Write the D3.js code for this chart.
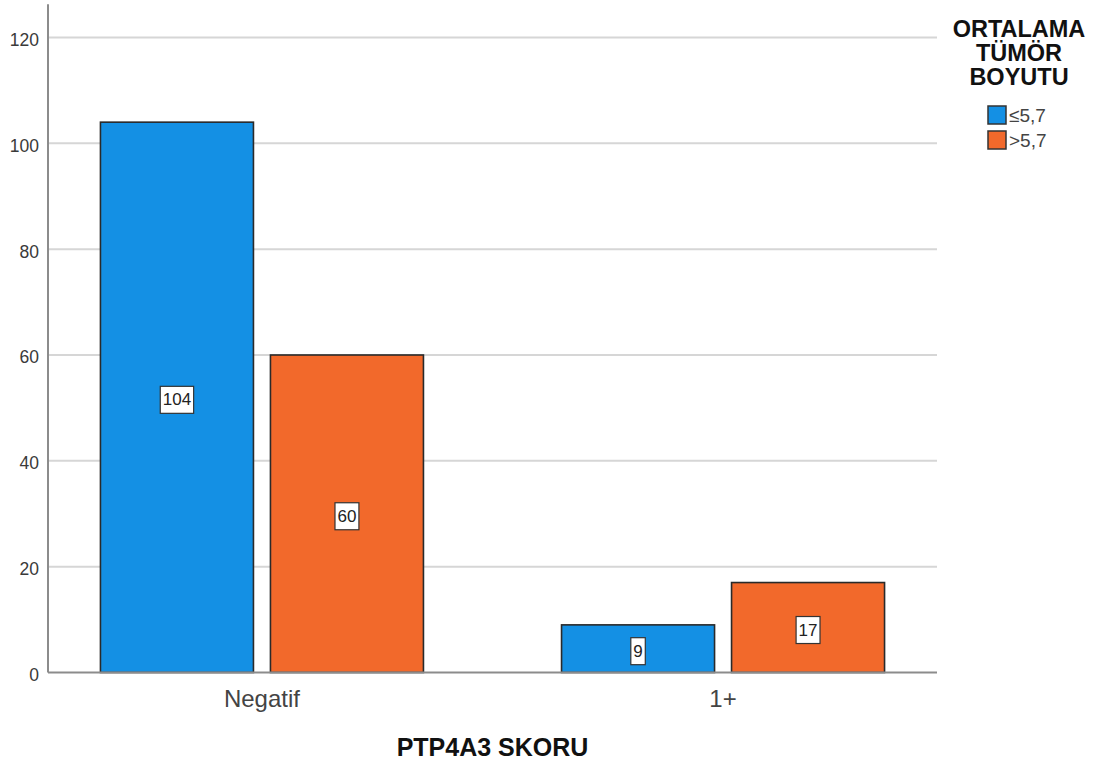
<!DOCTYPE html>
<html>
<head>
<meta charset="utf-8">
<script src="https://cdn.jsdelivr.net/npm/d3@7"></script>
<style>
  body { margin: 0; background: #fff; }
  svg { display: block; font-family: "Liberation Sans", Arial, sans-serif; }
</style>
</head>
<body>
<svg id="chart" width="1106" height="763"></svg>
<script>
const categories = ["Negatif", "1+"];
const seriesNames = ["≤5,7", ">5,7"];
const seriesLow = [104, 9];   // ≤5,7
const seriesHigh = [60, 17];  // >5,7
const yTicks = [0, 20, 40, 60, 80, 100, 120];
const xTitle = "PTP4A3 SKORU";
const legendTitle = ["ORTALAMA", "TÜMÖR", "BOYUTU"];
const colors = ["#1490e4", "#f2692b"];

const svg = d3.select("#chart");
const left = 48, right = 937;

const x = d3.scalePoint().domain(categories).range([left, right]).padding(0.464);
const x1 = d3.scaleBand().domain(seriesNames).range([-161.5, 161.5]).paddingInner(0.1);
const y = d3.scaleLinear().domain([0, 120]).range([672.5, 37.5]);

// gridlines
svg.append("g").selectAll("line").data(yTicks.filter(d => d > 0)).join("line")
  .attr("x1", left).attr("x2", right)
  .attr("y1", d => y(d)).attr("y2", d => y(d))
  .attr("stroke", "#d6d6d6").attr("stroke-width", 2);

// y axis
const yAxis = d3.axisLeft(y).tickValues(yTicks).tickSize(0).tickPadding(9);
const gy = svg.append("g").attr("transform", `translate(${left},0)`).call(yAxis);
gy.select(".domain").remove();
gy.selectAll("text").attr("font-size", 17.5).attr("fill", "#3a3a3a").attr("dy", "0.45em")
  .style("font-family", "'Liberation Sans', Arial, sans-serif");
svg.append("line").attr("x1", left).attr("x2", left).attr("y1", y(126.3)).attr("y2", y(0))
  .attr("stroke", "#8c8c8c").attr("stroke-width", 2);

// bars
const data = [];
categories.forEach((c, i) => {
  data.push({cat: c, s: seriesNames[0], v: seriesLow[i], col: colors[0]});
  data.push({cat: c, s: seriesNames[1], v: seriesHigh[i], col: colors[1]});
});
const bars = svg.append("g");
bars.selectAll("rect").data(data).join("rect")
  .attr("x", d => x(d.cat) + x1(d.s))
  .attr("width", x1.bandwidth())
  .attr("y", d => y(d.v))
  .attr("height", d => y(0) - y(d.v))
  .attr("fill", d => d.col)
  .attr("stroke", "#2a2a2a").attr("stroke-width", 1.6);

// x axis baseline
svg.append("line").attr("x1", left).attr("x2", right).attr("y1", y(0)).attr("y2", y(0))
  .attr("stroke", "#8c8c8c").attr("stroke-width", 2);

// value labels
const lab = svg.append("g").selectAll("g").data(data).join("g")
  .attr("transform", d => `translate(${x(d.cat) + x1(d.s) + x1.bandwidth() / 2},${(y(d.v) + y(0)) / 2 + 2})`);
lab.append("text").text(d => d.v)
  .attr("text-anchor", "middle").attr("dy", "0.36em")
  .attr("font-size", 17).attr("fill", "#222");
lab.each(function() {
  const g = d3.select(this);
  const bb = g.select("text").node().getBBox();
  g.insert("rect", "text")
    .attr("x", bb.x - 2.5).attr("y", -13)
    .attr("width", bb.width + 5).attr("height", 27)
    .attr("fill", "#fff").attr("stroke", "#333").attr("stroke-width", 1.2);
});

// category labels
svg.append("g").selectAll("text").data(categories).join("text")
  .attr("x", d => x(d)).attr("y", 707)
  .attr("text-anchor", "middle").attr("font-size", 24).attr("fill", "#444")
  .text(d => d);

// x title
svg.append("text").attr("x", (left + right) / 2).attr("y", 756)
  .attr("text-anchor", "middle").attr("font-size", 25).attr("font-weight", "bold")
  .attr("fill", "#111").text(xTitle);

// legend
const lg = svg.append("g");
lg.selectAll("text.t").data(legendTitle).join("text").attr("class", "t")
  .attr("x", 1019).attr("y", (d, i) => 37 + i * 24)
  .attr("text-anchor", "middle").attr("font-size", 23.5).attr("font-weight", "bold")
  .attr("fill", "#111").text(d => d);
const items = lg.selectAll("g.item").data(seriesNames).join("g").attr("class", "item")
  .attr("transform", (d, i) => `translate(988,${106 + i * 25})`);
items.append("rect").attr("width", 18).attr("height", 18)
  .attr("fill", (d, i) => colors[i]).attr("stroke", "#333").attr("stroke-width", 1.5);
items.append("text").attr("x", 21).attr("y", 16)
  .attr("font-size", 19).attr("fill", "#444").text(d => d);
</script>
</body>
</html>
